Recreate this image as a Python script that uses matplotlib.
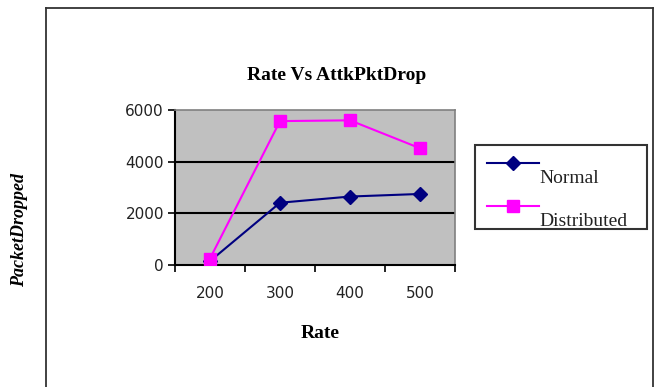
import matplotlib
matplotlib.use("Agg")
import matplotlib.pyplot as plt
from matplotlib.lines import Line2D

# Chart data
rates = ["200", "300", "400", "500"]
normal = [150, 2410, 2650, 2750]
distributed = [250, 5570, 5600, 4520]
y_ticks = [0, 2000, 4000, 6000]

SERIF = "Liberation Serif"
SANS = "DejaVu Sans"

W, H = 657, 387
fig = plt.figure(figsize=(W / 100, H / 100), dpi=100)
fig.patch.set_facecolor("white")

# plot area in pixel coords -> figure fraction
x0, x1, yt, yb = 175, 455, 110, 265
ax = fig.add_axes([x0 / W, 1 - yb / H, (x1 - x0) / W, (yb - yt) / H])
ax.set_facecolor("#C0C0C0")

xs = list(range(len(rates)))
ax.plot(xs, normal, color="#000080", lw=1.5, marker="D", markersize=7,
        label="Normal", zorder=3)
ax.plot(xs, distributed, color="#FF00FF", lw=1.5, marker="s", markersize=9,
        label="Distributed", zorder=3)

ax.set_xlim(-0.5, len(rates) - 0.5)
ax.set_ylim(0, 6000)

# category labels centred, ticks on the boundaries
ax.set_xticks(xs)
ax.set_xticklabels(rates, fontsize=11, family=SANS, color="#222222")
ax.tick_params(axis="x", which="major", length=0, pad=15)
ax.set_xticks([x - 0.5 for x in xs] + [len(rates) - 0.5], minor=True)
ax.tick_params(axis="x", which="minor", length=5, width=1.2, direction="out")

ax.set_yticks(y_ticks)
ax.set_yticklabels([str(v) for v in y_ticks], fontsize=11, family=SANS,
                   color="#222222")
ax.tick_params(axis="y", length=5, width=1.2, direction="out", pad=3)

for v in y_ticks[1:-1]:
    ax.axhline(v, color="black", lw=1.5, zorder=1)

for side in ("left", "bottom"):
    ax.spines[side].set_color("black")
    ax.spines[side].set_linewidth(1.5)
for side in ("top", "right"):
    ax.spines[side].set_color("#808080")
    ax.spines[side].set_linewidth(1.2)

fig.text(337 / W, 1 - 75 / H, "Rate Vs AttkPktDrop", ha="center", va="center",
         fontsize=14, fontweight="bold", family=SERIF)
fig.text(320 / W, 1 - 333 / H, "Rate", ha="center", va="center",
         fontsize=14, fontweight="bold", family=SERIF)
fig.text(20 / W, 1 - 230 / H, "PacketDropped", ha="center", va="center",
         rotation=90, fontsize=13, fontweight="bold", style="italic",
         family=SERIF)

leg = fig.legend(loc="upper left",
                 bbox_to_anchor=(475 / W, 1 - 145 / H, 172 / W, 0),
                 mode="expand", frameon=True, fancybox=False,
                 edgecolor="black", prop={"family": SERIF, "size": 14},
                 handlelength=2.7, handletextpad=0.0, labelspacing=1.3,
                 borderpad=0.6, borderaxespad=0, handleheight=0.7)
leg.get_frame().set_linewidth(1.5)
for t in leg.get_texts():
    t.set_color("#222222")
    t.set_va("top")

# outer chart frame
frame = dict(color="#333333", lw=1.3, transform=fig.transFigure)
fig.add_artist(Line2D([46 / W, 653 / W], [1 - 8 / H, 1 - 8 / H], **frame))
fig.add_artist(Line2D([46 / W, 46 / W], [0, 1 - 8 / H], **frame))
fig.add_artist(Line2D([653 / W, 653 / W], [0, 1 - 8 / H], **frame))

fig.savefig("out.png", dpi=100)
